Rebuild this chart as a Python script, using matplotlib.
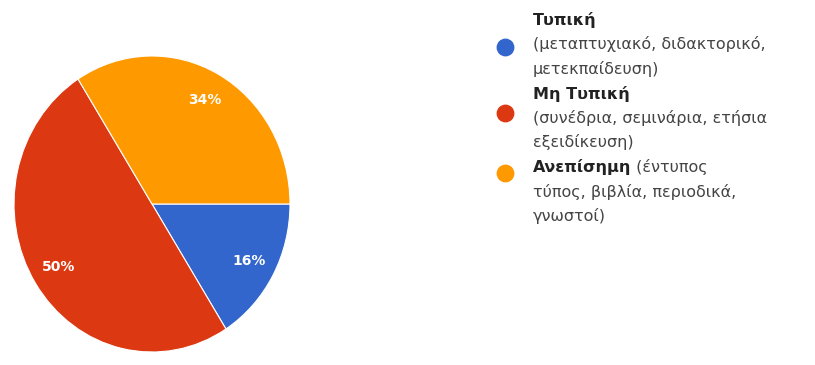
import matplotlib.pyplot as plt

# slices, clockwise from 3 o'clock
values = [16, 50, 34]
colors = ['#3366cc', '#dc3912', '#ff9900']

# legend lines: (bold part, regular part) per line
legend_lines = [
    [('Τυπική', ''), ('', '(μεταπτυχιακό, διδακτορικό,'), ('', 'μετεκπαίδευση)')],
    [('Μη Τυπική', ''), ('', '(συνέδρια, σεμινάρια, ετήσια'), ('', 'εξειδίκευση)')],
    [('Ανεπίσημη', ' (έντυπος'), ('', 'τύπος, βιβλία, περιοδικά,'), ('', 'γνωστοί)')],
]

W, H = 815, 365
fig = plt.figure(figsize=(W / 100, H / 100), dpi=100)

# pie is slightly taller than wide in the reference -> auto aspect
cx, cy, rx, ry = 152, 204, 138, 148
ax = fig.add_axes([(cx - rx) / W, (H - cy - ry) / H, 2 * rx / W, 2 * ry / H])
wedges, texts, autotexts = ax.pie(
    values, colors=colors, startangle=0, counterclock=False,
    autopct='%1.0f%%', pctdistance=0.8,
    wedgeprops=dict(edgecolor='white', linewidth=0.8),
    textprops=dict(color='white', fontsize=10, fontweight='bold'))
ax.set_aspect('auto')
ax.set_xlim(-1, 1)
ax.set_ylim(-1, 1)
ax.axis('off')

# legend drawn in pixel coordinates
lax = fig.add_axes([0, 0, 1, 1])
lax.set_xlim(0, W)
lax.set_ylim(H, 0)
lax.axis('off')

y0, step = 20, 24.5
dot_y = [47, 113, 173]
fs = 11.5
for i, block in enumerate(legend_lines):
    lax.scatter([505], [dot_y[i]], s=140, color=colors[i], zorder=3)
    for j, (bold, reg) in enumerate(block):
        y = y0 + (i * 3 + j) * step
        if bold:
            t = lax.text(533, y, bold, fontsize=fs, fontweight='bold',
                         color='#222222', va='center')
            if reg:
                lax.annotate(reg, xy=(1, 0), xycoords=t, fontsize=fs,
                             color='#444444', va='bottom', ha='left')
        else:
            lax.text(533, y, reg, fontsize=fs, color='#444444', va='center')

fig.savefig('out.png', dpi=100)
